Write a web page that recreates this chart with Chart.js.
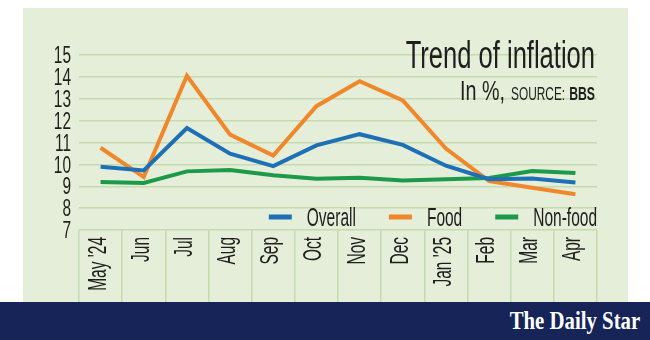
<!DOCTYPE html>
<html>
<head>
<meta charset="utf-8">
<script src="https://cdn.jsdelivr.net/npm/chart.js@4.4.1/dist/chart.umd.min.js"></script>
<style>
  html, body { margin: 0; padding: 0; background: #ffffff; }
  #wrap { position: relative; width: 650px; height: 340px; overflow: hidden; }
  #panel { position: absolute; left: 23px; top: 8px; width: 605px; height: 294px; background: #e5eed8; }
  #bar { position: absolute; left: 0; top: 302px; width: 650px; height: 38px; background: #162458; }
  #logo { position: absolute; right: 10px; top: 305px; color: #ffffff; font-family: "Liberation Serif", "DejaVu Serif", serif;
          font-weight: bold; font-size: 26px; line-height: 32px; transform: scaleX(0.80); transform-origin: right center; white-space: nowrap; }
  #c { position: absolute; left: 0; top: 0; }
</style>
</head>
<body>
<div id="wrap">
  <div id="panel"></div>
  <div id="bar"></div>
  <div id="logo">The Daily Star</div>
  <canvas id="c" width="650" height="340"></canvas>
</div>
<script>
const categories = ["May '24", "Jun", "Jul", "Aug", "Sep", "Oct", "Nov", "Dec", "Jan '25", "Feb", "Mar", "Apr"];
const overall = [9.89, 9.72, 11.66, 10.49, 9.92, 10.87, 11.38, 10.89, 9.94, 9.32, 9.35, 9.17];
const food    = [10.76, 9.42, 14.05, 11.36, 10.40, 12.66, 13.80, 12.92, 10.72, 9.24, 8.93, 8.63];
const nonFood = [9.19, 9.15, 9.68, 9.74, 9.50, 9.34, 9.39, 9.26, 9.32, 9.38, 9.70, 9.61];
const yMin = 7, yMax = 15, yStep = 1;
const titleText = "Trend of inflation";
const unitText = "In %,";
const sourceLabel = "SOURCE:";
const sourceName = "BBS";

const FONT = '"Liberation Sans", Arimo, Arial, sans-serif';
const GRID = '#c6dab0';
const INK = '#1e1e1e';
const SX = 0.62; // condensing factor for the narrow display face

function drawCondensed(ctx, text, xRight, y, font, sx) {
  ctx.save();
  ctx.font = font;
  const w = ctx.measureText(text).width * sx;
  ctx.translate(xRight - w, y);
  ctx.scale(sx, 1);
  ctx.textAlign = 'left';
  ctx.textBaseline = 'alphabetic';
  ctx.fillText(text, 0, 0);
  ctx.restore();
  return w;
}

const overlay = {
  id: 'overlay',
  afterDraw(chart) {
    const ctx = chart.ctx;
    const area = chart.chartArea;
    const right = area.right - 2;
    const xs = chart.scales.x, ys = chart.scales.y;
    ctx.save();
    ctx.fillStyle = INK;

    // y tick labels (from the scale's own ticks)
    const yFont = 23;
    ys.ticks.forEach((t, i) => {
      const py = ys.getPixelForTick(i);
      drawCondensed(ctx, String(t.value), area.left - 8, py + yFont * 0.716 / 2, yFont + 'px ' + FONT, 0.67);
    });

    // x tick labels, rotated, reading bottom-to-top
    const xFont = 25;
    xs.ticks.forEach((t, i) => {
      const px = xs.getPixelForTick(i);
      const label = xs.getLabelForValue(t.value);
      ctx.save();
      ctx.font = xFont + 'px ' + FONT;
      ctx.translate(px + 5, area.bottom + 7);
      ctx.rotate(-Math.PI / 2);
      ctx.scale(SX, 1);
      ctx.textAlign = 'right';
      ctx.textBaseline = 'alphabetic';
      ctx.fillText(label, 0, 0);
      ctx.restore();
    });

    // title
    drawCondensed(ctx, titleText, right, 68, '39px ' + FONT, 0.655);
    // subtitle
    let x = right;
    x -= drawCondensed(ctx, sourceName, x, 100, 'bold 18px ' + FONT, 0.68) + 4;
    x -= drawCondensed(ctx, sourceLabel, x, 100, '18px ' + FONT, 0.66) + 6;
    drawCondensed(ctx, unitText, x, 100, '27px ' + FONT, 0.73);

    // legend
    const ds = chart.data.datasets;
    let lx = area.right;
    for (let i = ds.length - 1; i >= 0; i--) {
      ctx.fillStyle = INK;
      const w = drawCondensed(ctx, ds[i].label, lx, 226, '25px ' + FONT, SX);
      const lineEnd = lx - w - 15;
      ctx.strokeStyle = ds[i].borderColor;
      ctx.lineWidth = 5;
      ctx.lineCap = 'butt';
      ctx.beginPath();
      ctx.moveTo(lineEnd - 23, 217);
      ctx.lineTo(lineEnd, 217);
      ctx.stroke();
      lx = lineEnd - 23 - 33;
    }
    ctx.restore();
  }
};

new Chart(document.getElementById('c'), {
  type: 'line',
  data: {
    labels: categories,
    datasets: [
      { label: 'Overall', data: overall, borderColor: '#1f6fb6', backgroundColor: '#1f6fb6' },
      { label: 'Food', data: food, borderColor: '#f1872b', backgroundColor: '#f1872b' },
      { label: 'Non-food', data: nonFood, borderColor: '#1c9a4a', backgroundColor: '#1c9a4a' }
    ]
  },
  options: {
    responsive: false,
    animation: false,
    devicePixelRatio: 1,
    layout: { padding: { left: 0, right: 53, top: 55, bottom: 38 } },
    elements: {
      line: { borderWidth: 4, tension: 0, borderJoinStyle: 'miter', borderCapStyle: 'butt' },
      point: { radius: 0, hoverRadius: 0 }
    },
    plugins: {
      legend: { display: false },
      title: { display: false },
      tooltip: { enabled: false }
    },
    scales: {
      x: {
        type: 'category',
        offset: true,
        border: { display: false },
        grid: {
          offset: true,
          drawOnChartArea: false,
          drawTicks: true,
          tickLength: 72,
          lineWidth: 1.5,
          color: (c) => (c.index === categories.length ? 'rgba(0,0,0,0)' : GRID)
        },
        ticks: { display: false, autoSkip: false },
        afterFit(scale) { scale.height = 72; }
      },
      y: {
        min: yMin,
        max: yMax,
        border: { display: false },
        grid: { color: GRID, lineWidth: 1.5, drawTicks: false },
        ticks: { display: false, autoSkip: false, stepSize: yStep },
        afterFit(scale) { scale.width = 79; }
      }
    }
  },
  plugins: [overlay]
});
</script>
</body>
</html>
